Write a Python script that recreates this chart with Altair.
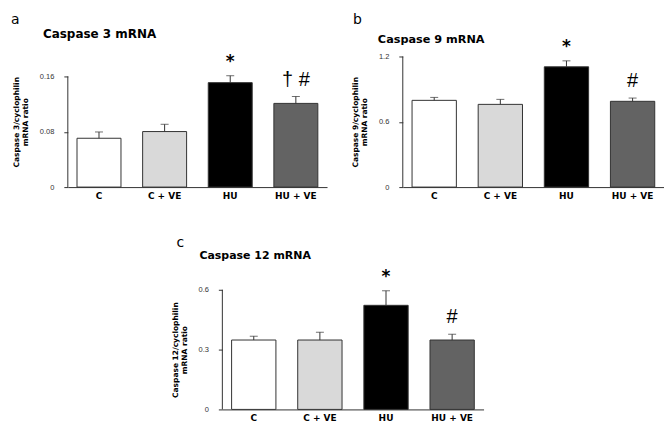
import altair as alt
import pandas as pd

cats = ["C", "C + VE", "HU", "HU + VE"]
fills = ["#ffffff", "#d9d9d9", "#000000", "#636363"]

letters = ["a", "b", "c"]
titles = ["Caspase 3 mRNA", "Caspase 9 mRNA", "Caspase 12 mRNA"]
ytitles = [["Caspase 3/cyclophilin", "mRNA ratio"],
           ["Caspase 9/cyclophilin", "mRNA ratio"],
           ["Caspase 12/cyclophilin", "mRNA ratio"]]

a_vals = [0.0706, 0.0803, 0.151, 0.121]
a_errs = [0.0091, 0.0105, 0.010, 0.010]
a_ticks = [0, 0.08, 0.16]
a_star = ["", "", "*", ""]
a_hash = ["", "", "", "\u2020 #"]

b_vals = [0.797, 0.760, 1.105, 0.788]
b_errs = [0.027, 0.046, 0.055, 0.030]
b_ticks = [0, 0.6, 1.2]
b_star = ["", "", "*", ""]
b_hash = ["", "", "", "#"]

c_vals = [0.348, 0.348, 0.522, 0.348]
c_errs = [0.019, 0.039, 0.073, 0.029]
c_ticks = [0, 0.3, 0.6]
c_star = ["", "", "*", ""]
c_hash = ["", "", "", "#"]

FONT = "DejaVu Sans"
INK = "#333333"


def panel(vals, errs, ticks, star, hsh, ymax, letter, title, ytitle, width, height,
          letter_xy, title_xy, title_size):
    df = pd.DataFrame({
        "cat": cats,
        "val": vals,
        "top": [v + e for v, e in zip(vals, errs)],
        "star": star,
        "hash": hsh,
    })
    yscale = alt.Scale(domain=[0, ymax], nice=False, zero=True)
    xenc = alt.X("cat:N", sort=cats, title=None,
                 scale=alt.Scale(paddingInner=0.33, paddingOuter=0.14),
                 axis=alt.Axis(labelAngle=0, ticks=False, labelFont=FONT,
                               labelFontWeight="bold", labelFontSize=9,
                               labelColor="black", domainColor=INK,
                               labelPadding=4))
    yaxis = alt.Axis(values=ticks, domain=False, grid=False, tickSize=4,
                     tickColor=INK, labelFont="Liberation Sans", labelFontSize=7.5,
                     labelColor=INK, labelPadding=10,
                     labelExpr="datum.value == 0 ? '0' : toString(datum.value)",
                     titleFont=FONT, titleFontSize=7.5, titleFontWeight="bold",
                     titleColor="black", titleLineHeight=9, titlePadding=10)
    base = alt.Chart(df)
    bars = base.mark_bar(stroke=INK, strokeWidth=1).encode(
        x=xenc,
        y=alt.Y("val:Q", scale=yscale, axis=yaxis, title=ytitle),
        fill=alt.Fill("cat:N", scale=alt.Scale(domain=cats, range=fills), legend=None),
    )
    err = base.mark_rule(color=INK, strokeWidth=1).encode(
        x=alt.X("cat:N", sort=cats), y=alt.Y("val:Q", title=ytitle), y2="top:Q")
    cap = base.mark_tick(color=INK, size=8, thickness=1).encode(
        x=alt.X("cat:N", sort=cats), y=alt.Y("top:Q", title=ytitle))
    stars = base.mark_text(font=FONT, fontSize=17, fontWeight="bold",
                           baseline="middle", dy=-14, color="black").encode(
        x=alt.X("cat:N", sort=cats), y=alt.Y("top:Q", title=ytitle), text="star:N")
    hashes = base.mark_text(font="Liberation Sans", fontSize=20,
                            baseline="middle", dy=-17, color="black").encode(
        x=alt.X("cat:N", sort=cats), y=alt.Y("top:Q", title=ytitle), text="hash:N")
    axdf = pd.DataFrame({"y0": [ticks[0]], "y1": [ticks[-1]]})
    axline = alt.Chart(axdf).mark_rule(color=INK, strokeWidth=1).encode(
        x=alt.value(0), y=alt.Y("y0:Q", scale=yscale, title=ytitle), y2="y1:Q")
    lab = alt.Chart(pd.DataFrame({"t": [letter]})).mark_text(
        align="left", baseline="alphabetic", font=FONT, fontSize=14,
        color="black").encode(x=alt.value(letter_xy[0]), y=alt.value(letter_xy[1]),
                              text="t:N")
    ttl = alt.Chart(pd.DataFrame({"t": [title]})).mark_text(
        align="left", baseline="alphabetic", font=FONT, fontSize=title_size,
        fontWeight="bold", color="black").encode(
        x=alt.value(title_xy[0]), y=alt.value(title_xy[1]), text="t:N")
    return alt.layer(bars, err, cap, stars, hashes, axline, lab, ttl).properties(
        width=width, height=height)


pa = panel(a_vals, a_errs, a_ticks, a_star, a_hash, 0.16 * 131 / 111, letters[0],
           titles[0], ytitles[0], 260, 131, (-57, -33), (-25, -19), 12)
pb = panel(b_vals, b_errs, b_ticks, b_star, b_hash, 1.2, letters[1], titles[1],
           ytitles[1], 262, 131, (-50, -33), (-25, -14), 11.3)
pc = panel(c_vals, c_errs, c_ticks, c_star, c_hash, 0.6, letters[2], titles[2],
           ytitles[2], 262, 120, (-46, -43), (-23, -31), 11)

spacer = alt.Chart(pd.DataFrame({"v": [0]})).mark_point(opacity=0, size=1).encode(
    x=alt.value(0), y=alt.value(0)).properties(width=103, height=1)

row1 = alt.hconcat(pa, pb, spacing=24)
row2 = alt.hconcat(spacer, pc, spacing=0)
chart = alt.vconcat(row1, row2, spacing=36).properties(
    padding={"left": 3, "top": 4, "right": 0, "bottom": 0}
).configure_view(stroke=None)

chart.save("out.html", embed_options={"renderer": "svg", "actions": False})
